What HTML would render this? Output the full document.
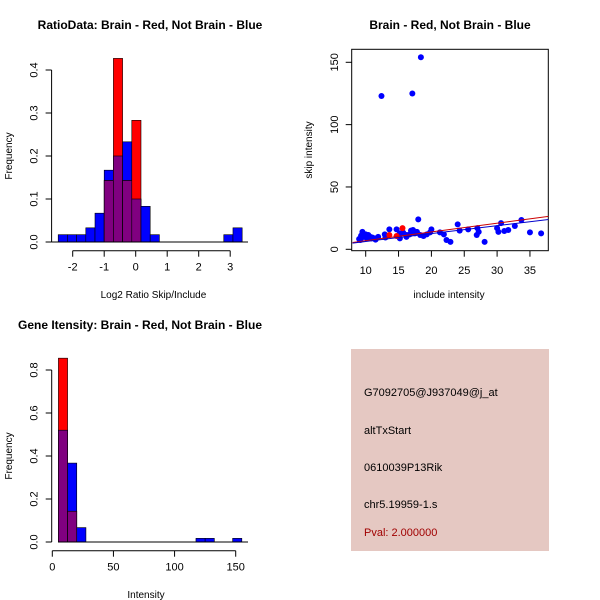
<!DOCTYPE html>
<html><head><meta charset="utf-8"><style>
body{margin:0;background:#fff}
svg{display:block;font-family:"Liberation Sans",sans-serif}
</style></head><body>
<svg id="s" width="600" height="600" viewBox="0 0 600 600" xmlns="http://www.w3.org/2000/svg">
<rect x="0" y="0" width="600" height="600" fill="#fff"/>
<text x="150" y="29" text-anchor="middle" font-size="12" font-weight="bold">RatioData: Brain - Red, Not Brain - Blue</text>
<text x="450" y="29" text-anchor="middle" font-size="12" font-weight="bold">Brain - Red, Not Brain - Blue</text>
<text x="140" y="329" text-anchor="middle" font-size="12" font-weight="bold">Gene Itensity: Brain - Red, Not Brain - Blue</text>
<g id="g1"></g>
<g id="g2"></g>
<g id="g3"></g>
<g>
<rect x="351" y="349" width="198" height="202" fill="#e5c8c2"/>
<text x="364" y="396" font-size="11">G7092705@J937049@j_at</text>
<text x="364" y="434" font-size="11">altTxStart</text>
<text x="364" y="471" font-size="11">0610039P13Rik</text>
<text x="364" y="508" font-size="11">chr5.19959-1.s</text>
<text x="364" y="536" font-size="11" fill="#a00000">Pval: 2.000000</text>
</g>
</svg>
<script>
// Ratio histogram data
const ratioStart=-2.46, ratioWidth=0.292;
const ratioBlue=[0.017,0.017,0.017,0.033,0.067,0.167,0.2,0.233,0.1,0.083,0.017,0,0,0,0,0,0,0,0.017,0.033];
const ratioRed=[0,0,0,0,0,0.143,0.427,0.143,0.283,0,0,0,0,0,0,0,0,0,0,0];
const ratioXTicks=[-2,-1,0,1,2,3];
const ratioYTicks=[0,0.1,0.2,0.3,0.4];
// Intensity histogram data
const intStart=5, intWidth=7.5;
const intBlue=[0.52,0.367,0.067,0,0,0,0,0,0,0,0,0,0,0,0,0.017,0.017,0,0,0.017];
const intRed=[0.855,0.143,0,0,0,0,0,0,0,0,0,0,0,0,0,0,0,0,0,0];
const intXTicks=[0,50,100,150];
const intYTicks=[0,0.2,0.4,0.6,0.8];
// Scatter data
const blueX=[12.4,17.1,18.4,18.0,24.0,13.6,14.7,20.0,25.6,24.3,27.0,27.2,26.9,28.1,22.3,22.9,21.9,21.3,30.0,30.2,30.6,31.1,31.7,32.7,33.7,35.0,36.7,
 9.0,9.5,9.7,10.0,10.2,10.4,10.7,10.9,11.4,11.9,12.9,11.5,9.2,9.6,
 15.2,15.7,16.2,16.7,16.9,17.2,17.5,17.8,18.3,18.8,19.3,19.8,15.2,16.2,9.3,10.5,11.0,13.0];
const blueY=[123,125,154,24,20,16,16,16,16,15,17,14,11.5,6,7.5,6,12,13.6,17,14,21,14.7,15.5,18.7,23.5,13.6,12.8,
 8.3,14,10,12,8.8,11.5,10,8.8,8.8,10,12,7.8,7.5,11,
 12.8,13.4,11.5,12,15,15.5,12.8,14,11.5,10.7,12,13.6,8.8,10,11,10.5,9.5,9.5];
const redX=[13.6,14.7,15.6];
const redY=[11.5,10.7,17];
const scXTicks=[10,15,20,25,30,35];
const scYTicks=[0,50,100,150];
const fitRed=[[8,5.5],[38,26.5]];
const fitBlue=[[8,5],[38,24]];

const NS="http://www.w3.org/2000/svg";
function mk(p,tag,at){const e=document.createElementNS(NS,tag);for(const k in at)e.setAttribute(k,at[k]);p.appendChild(e);return e;}

function hist(g,start,w,blue,red,sx,sy,xt,yt,yAxisX,xAxisY,ylab,xlab,fmtY,xlabY,ylabX){
  for(let i=0;i<blue.length;i++){
    const x0=sx(start+i*w),x1=sx(start+(i+1)*w);
    const b=blue[i],r=red[i];
    if(b>0){const e=mk(g,'rect',{x:x0,y:sy(b),width:x1-x0,height:sy(0)-sy(b),fill:'#0000ff',stroke:'#000','stroke-width':0.6});
      
      }
    if(r>0){const e=mk(g,'rect',{x:x0,y:sy(r),width:x1-x0,height:sy(0)-sy(r),fill:'#ff0000',stroke:'#000','stroke-width':0.6});
      
      }
    const m=Math.min(b,r);
    if(m>0){const e=mk(g,'rect',{x:x0,y:sy(m),width:x1-x0,height:sy(0)-sy(m),fill:'#800080',stroke:'#000','stroke-width':0.6});
      
      }
  }
  mk(g,'line',{x1:yAxisX,y1:sy(yt[0]),x2:yAxisX,y2:sy(yt[yt.length-1]),stroke:'#000'});
  yt.forEach(v=>{mk(g,'line',{x1:yAxisX,y1:sy(v),x2:yAxisX-6,y2:sy(v),stroke:'#000'});
    const t=mk(g,'text',{x:yAxisX-14,y:sy(v),'font-size':11,'text-anchor':'middle',transform:`rotate(-90 ${yAxisX-14} ${sy(v)})`});t.textContent=fmtY(v);
    
    });
  mk(g,'line',{x1:sx(xt[0]),y1:xAxisY,x2:sx(xt[xt.length-1]),y2:xAxisY,stroke:'#000'});
  xt.forEach(v=>{mk(g,'line',{x1:sx(v),y1:xAxisY,x2:sx(v),y2:xAxisY+6,stroke:'#000'});
    const t=mk(g,'text',{x:sx(v),y:xAxisY+20,'font-size':11,'text-anchor':'middle'});t.textContent=v;
    
    });
  const yl=mk(g,'text',{x:ylabX,y:(sy(yt[0])+sy(yt[yt.length-1]))/2,'font-size':10,'text-anchor':'middle',transform:`rotate(-90 ${ylabX} ${(sy(yt[0])+sy(yt[yt.length-1]))/2})`});yl.textContent=ylab;
  
  
  const xl=mk(g,'text',{x:(sx(xt[0])+sx(xt[xt.length-1]))/2+2,y:xlabY,'font-size':10,'text-anchor':'middle'});xl.textContent=xlab;
  
  
}
// Plot 1
{const g=document.getElementById('g1');
 const sx=v=>72.7+(v+2)*31.5, sy=v=>242-v*430;
 hist(g,ratioStart,ratioWidth,ratioBlue,ratioRed,sx,sy,ratioXTicks,ratioYTicks,51.6,250.7,'Frequency','Log2 Ratio Skip/Include',v=>v.toFixed(1),298,12);
 mk(g,'line',{x1:51.6,y1:sy(0),x2:248,y2:sy(0),stroke:'#000'});}
// Plot 3
{const g=document.getElementById('g3');
 const sx=v=>52.3+v*1.2227, sy=v=>542-v*215;
 hist(g,intStart,intWidth,intBlue,intRed,sx,sy,intXTicks,intYTicks,51.7,550.7,'Frequency','Intensity',v=>v.toFixed(1),598,12);
 mk(g,'line',{x1:58,y1:sy(0),x2:248,y2:sy(0),stroke:'#000'});}
// Plot 2
{const g=document.getElementById('g2');
 const sx=v=>365.7+(v-10)*6.57, sy=v=>249.3-v*1.2467;
 mk(g,'rect',{x:351.7,y:49.3,width:196.6,height:201.4,fill:'none',stroke:'#000'});
 scYTicks.forEach(v=>{mk(g,'line',{x1:351.7,y1:sy(v),x2:345.7,y2:sy(v),stroke:'#000'});
  const t=mk(g,'text',{x:338,y:sy(v),'font-size':11,'text-anchor':'middle',transform:`rotate(-90 338 ${sy(v)})`});t.textContent=v;
  
  });
 scXTicks.forEach(v=>{mk(g,'line',{x1:sx(v),y1:250.7,x2:sx(v),y2:256.7,stroke:'#000'});
  const t=mk(g,'text',{x:sx(v),y:274,'font-size':11,'text-anchor':'middle'});t.textContent=v;
  
  });
 const yl=mk(g,'text',{x:312,y:150,'font-size':10,'text-anchor':'middle',transform:'rotate(-90 312 150)'});yl.textContent='skip intensity';
 
 
 const xl=mk(g,'text',{x:449,y:298,'font-size':10,'text-anchor':'middle'});xl.textContent='include intensity';
 
 
 const cg=mk(g,'g',{});
 mk(cg,'clipPath',{id:'cp'}).appendChild(document.createElementNS(NS,'rect'));
 const cr=cg.querySelector('#cp rect');cr.setAttribute('x',351.7);cr.setAttribute('y',49.3);cr.setAttribute('width',196.6);cr.setAttribute('height',201.4);
 const pg=mk(g,'g',{'clip-path':'url(#cp)'});
 blueX.forEach((x,i)=>{const c=mk(pg,'circle',{cx:sx(x),cy:sy(blueY[i]),r:3,fill:'#0000ff'});
  
  });
 redX.forEach((x,i)=>{const c=mk(pg,'circle',{cx:sx(x),cy:sy(redY[i]),r:3,fill:'#ff0000'});
  
  });
 const lr=mk(pg,'line',{x1:sx(fitRed[0][0]),y1:sy(fitRed[0][1]),x2:sx(fitRed[1][0]),y2:sy(fitRed[1][1]),stroke:'#cc0000'});
 
 
 const lb=mk(pg,'line',{x1:sx(fitBlue[0][0]),y1:sy(fitBlue[0][1]),x2:sx(fitBlue[1][0]),y2:sy(fitBlue[1][1]),stroke:'#0000cc'});
 
 }
</script>
</body></html>
